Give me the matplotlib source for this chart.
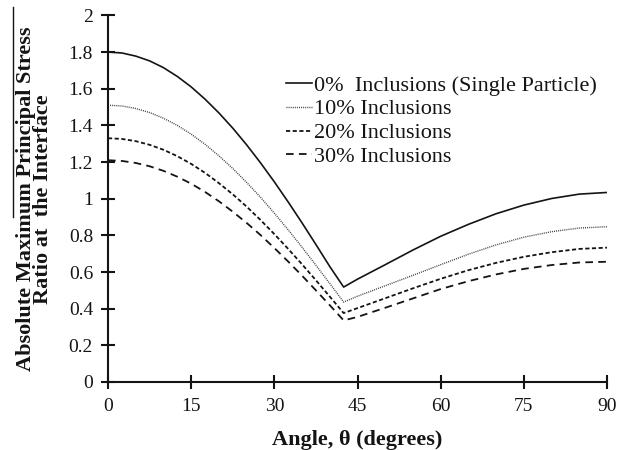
import matplotlib
matplotlib.use("Agg")
import matplotlib.pyplot as plt
from matplotlib.lines import Line2D
from matplotlib.ticker import FuncFormatter

# Data
angles = [0, 2.5, 5, 7.5, 10, 12.5, 15, 17.5, 20, 22.5, 25, 27.5, 30, 32.5, 35, 37.5,
          40, 42.5, 45, 50, 55, 60, 65, 70, 75, 80, 85, 90]
inc_0 = [1.800, 1.795, 1.778, 1.752, 1.715, 1.667, 1.610, 1.543, 1.468, 1.385, 1.294,
         1.196, 1.092, 0.982, 0.868, 0.750, 0.630, 0.518,
         0.561, 0.640, 0.720, 0.795, 0.860, 0.918, 0.965, 1.001, 1.025, 1.034]
inc_10 = [1.510, 1.506, 1.492, 1.470, 1.439, 1.400, 1.352, 1.297, 1.234, 1.165, 1.089,
          1.008, 0.921, 0.830, 0.735, 0.637, 0.537, 0.436,
          0.468, 0.525, 0.582, 0.640, 0.697, 0.748, 0.790, 0.820, 0.840, 0.847]
inc_20 = [1.330, 1.326, 1.314, 1.294, 1.267, 1.232, 1.190, 1.141, 1.085, 1.024, 0.957,
          0.884, 0.807, 0.726, 0.642, 0.555, 0.466, 0.376,
          0.403, 0.457, 0.511, 0.563, 0.610, 0.650, 0.683, 0.708, 0.726, 0.733]
inc_30 = [1.210, 1.206, 1.195, 1.177, 1.152, 1.120, 1.082, 1.037, 0.986, 0.929, 0.868,
          0.802, 0.731, 0.657, 0.580, 0.500, 0.419, 0.336,
          0.355, 0.405, 0.456, 0.507, 0.550, 0.587, 0.617, 0.638, 0.652, 0.656]
labels = ["0%  Inclusions (Single Particle)", "10% Inclusions",
          "20% Inclusions", "30% Inclusions"]
x_ticks = [0, 15, 30, 45, 60, 75, 90]
y_ticks = [0, 0.2, 0.4, 0.6, 0.8, 1.0, 1.2, 1.4, 1.6, 1.8, 2.0]

plt.rcParams['font.family'] = ['Liberation Serif', 'DejaVu Serif']
plt.rcParams['lines.scale_dashes'] = False
ink = '#141414'

fig = plt.figure(figsize=(6.21, 4.5), dpi=100)
ax = fig.add_axes([108/621, 1-382/450, (607-108)/621, (382-15.4)/450])

series = [inc_0, inc_10, inc_20, inc_30]
styles = [dict(ls='-', lw=1.2, color=ink),
          dict(ls=(0, (0.7, 0.8)), lw=1.0, color='#3a3a3a'),
          dict(ls=(0, (3.0, 1.8)), lw=1.3, color=ink),
          dict(ls=(0, (5.5, 3.8)), lw=1.3, color=ink)]
handles = []
for vals, st, lab in zip(series, styles, labels):
    h, = ax.plot(angles, vals, label=lab, **st)
    handles.append(h)

ax.set_xlim(0, 90)
ax.set_ylim(0, 2)
ax.set_xticks(x_ticks)
ax.set_yticks(y_ticks)
ax.yaxis.set_major_formatter(FuncFormatter(lambda v, p: f"{v:g}"))
for s in ['top', 'right']:
    ax.spines[s].set_visible(False)
for s in ['left', 'bottom']:
    ax.spines[s].set_linewidth(1.5)
    ax.spines[s].set_color(ink)
ax.tick_params(direction='inout', length=9.5, width=1.5, color=ink,
               labelsize=14, labelcolor=ink)
ax.tick_params(axis='x', pad=6.5)
ax.tick_params(axis='y', pad=6)

ax.set_xlabel("Angle, \u03b8 (degrees)", fontsize=16, fontweight='bold',
              color=ink, labelpad=11)
ax.set_ylabel("Absolute Maximum Principal Stress\nRatio at  the Interface",
              fontsize=16, fontweight='bold', color=ink, linespacing=0.85,
              labelpad=11)

leg = ax.legend(handles=handles, loc='upper left', frameon=False,
                bbox_to_anchor=(286/621, 1-75/450), bbox_transform=fig.transFigure,
                fontsize=16, handlelength=1.15, handletextpad=0.1,
                labelspacing=0.15, borderpad=0, borderaxespad=0)
for t in leg.get_texts():
    t.set_color(ink)

# stray vertical rule seen beside the y label in the reference
fig.add_artist(Line2D([13/621, 13/621], [1-7/450, 1-217/450],
                      transform=fig.transFigure, color=ink, lw=1.0))

fig.savefig("out.png", dpi=100)
